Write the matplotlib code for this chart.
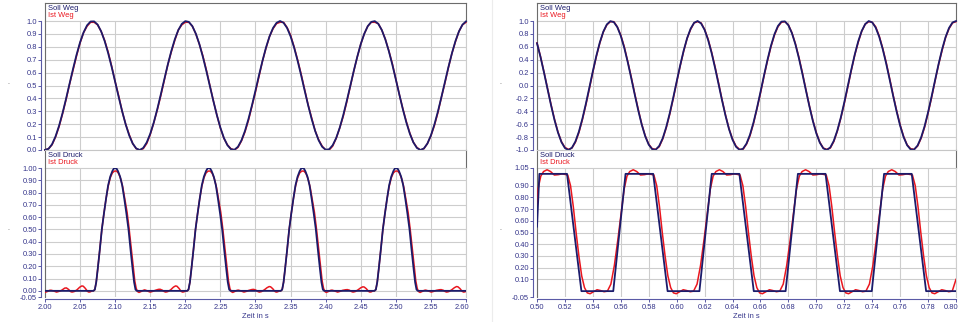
import numpy as np
import matplotlib
matplotlib.use("Agg")
import matplotlib.pyplot as plt
from matplotlib.lines import Line2D
from matplotlib.transforms import ScaledTranslation

plt.rcParams['font.family'] = ['Liberation Sans', 'DejaVu Sans']

# ---------------- left recording: 2.00 ... 2.60 s ----------------
t_weg_l = np.linspace(2.0, 2.6, 121)
soll_weg_l = [
    0.001, 0.009, 0.044, 0.105, 0.187, 0.286, 0.397, 0.514, 0.630, 0.739,
    0.835, 0.912, 0.967, 0.996, 0.997, 0.972, 0.920, 0.845, 0.751, 0.644,
    0.528, 0.411, 0.299, 0.198, 0.113, 0.050, 0.012, 0.000, 0.016, 0.059,
    0.126, 0.213, 0.316, 0.430, 0.547, 0.662, 0.767, 0.858, 0.930, 0.978,
    0.999, 0.993, 0.960, 0.901, 0.821, 0.722, 0.612, 0.495, 0.379, 0.269,
    0.172, 0.093, 0.037, 0.006, 0.002, 0.025, 0.075, 0.148, 0.241, 0.347,
    0.462, 0.580, 0.692, 0.795, 0.881, 0.946, 0.986, 1.000, 0.986, 0.946,
    0.881, 0.795, 0.692, 0.580, 0.462, 0.347, 0.241, 0.148, 0.075, 0.025,
    0.002, 0.006, 0.037, 0.093, 0.172, 0.269, 0.379, 0.495, 0.612, 0.722,
    0.821, 0.901, 0.960, 0.993, 0.999, 0.978, 0.930, 0.858, 0.767, 0.662,
    0.547, 0.430, 0.316, 0.213, 0.126, 0.059, 0.016, 0.000, 0.012, 0.050,
    0.113, 0.198, 0.299, 0.411, 0.528, 0.644, 0.751, 0.845, 0.920, 0.972,
    0.997]
ist_weg_l = [
    0.00, 0.01, 0.04, 0.10, 0.18, 0.28, 0.39, 0.51, 0.62, 0.73,
    0.83, 0.91, 0.96, 0.99, 0.99, 0.97, 0.92, 0.85, 0.76, 0.65,
    0.53, 0.42, 0.30, 0.20, 0.12, 0.05, 0.01, 0.00, 0.01, 0.05,
    0.12, 0.21, 0.31, 0.42, 0.54, 0.66, 0.76, 0.85, 0.93, 0.97,
    0.99, 0.99, 0.96, 0.90, 0.82, 0.73, 0.62, 0.50, 0.38, 0.27,
    0.17, 0.09, 0.04, 0.01, 0.00, 0.02, 0.07, 0.14, 0.23, 0.34,
    0.45, 0.57, 0.69, 0.79, 0.88, 0.94, 0.98, 0.99, 0.99, 0.95,
    0.89, 0.80, 0.70, 0.59, 0.47, 0.35, 0.25, 0.15, 0.08, 0.03,
    0.00, 0.00, 0.03, 0.09, 0.17, 0.26, 0.37, 0.49, 0.61, 0.72,
    0.82, 0.90, 0.96, 0.99, 0.99, 0.98, 0.93, 0.86, 0.77, 0.67,
    0.55, 0.43, 0.32, 0.22, 0.13, 0.06, 0.02, 0.00, 0.01, 0.05,
    0.11, 0.19, 0.29, 0.41, 0.52, 0.64, 0.75, 0.84, 0.92, 0.97,
    0.99]

t_soll_druck_l = [
    2.000,
    2.069, 2.071, 2.073, 2.075, 2.078, 2.081, 2.084, 2.087, 2.090, 2.093, 2.096, 2.098, 2.100,
    2.102, 2.104, 2.107, 2.110, 2.113, 2.116, 2.119, 2.122, 2.125, 2.127, 2.129, 2.131,
    2.2025, 2.2045, 2.2065, 2.2085, 2.2115, 2.2145, 2.2175, 2.2205, 2.2235, 2.2265, 2.2295, 2.2315, 2.2335,
    2.2355, 2.2375, 2.2405, 2.2435, 2.2465, 2.2495, 2.2525, 2.2555, 2.2585, 2.2605, 2.2625, 2.2645,
    2.336, 2.338, 2.340, 2.342, 2.345, 2.348, 2.351, 2.354, 2.357, 2.360, 2.363, 2.365, 2.367,
    2.369, 2.371, 2.374, 2.377, 2.380, 2.383, 2.386, 2.389, 2.392, 2.394, 2.396, 2.398,
    2.4695, 2.4715, 2.4735, 2.4755, 2.4785, 2.4815, 2.4845, 2.4875, 2.4905, 2.4935, 2.4965, 2.4985, 2.5005,
    2.5025, 2.5045, 2.5075, 2.5105, 2.5135, 2.5165, 2.5195, 2.5225, 2.5255, 2.5275, 2.5295, 2.5315,
    2.600]
soll_druck_l = [
    0.0,
    0, 0.01, 0.07, 0.17, 0.33, 0.50, 0.63, 0.75, 0.86, 0.93, 0.975, 0.995, 1.0,
    0.995, 0.975, 0.93, 0.86, 0.75, 0.63, 0.50, 0.33, 0.17, 0.07, 0.01, 0,
    0, 0.01, 0.07, 0.17, 0.33, 0.50, 0.63, 0.75, 0.86, 0.93, 0.975, 0.995, 1.0,
    0.995, 0.975, 0.93, 0.86, 0.75, 0.63, 0.50, 0.33, 0.17, 0.07, 0.01, 0,
    0, 0.01, 0.07, 0.17, 0.33, 0.50, 0.63, 0.75, 0.86, 0.93, 0.975, 0.995, 1.0,
    0.995, 0.975, 0.93, 0.86, 0.75, 0.63, 0.50, 0.33, 0.17, 0.07, 0.01, 0,
    0, 0.01, 0.07, 0.17, 0.33, 0.50, 0.63, 0.75, 0.86, 0.93, 0.975, 0.995, 1.0,
    0.995, 0.975, 0.93, 0.86, 0.75, 0.63, 0.50, 0.33, 0.17, 0.07, 0.01, 0,
    0.0]

t_ist_druck_l = [
    2.000, 2.0035, 2.0065, 2.0085, 2.0115, 2.0145, 2.0165, 2.0195, 2.0235, 2.028, 2.0305, 2.0335,
    2.0365, 2.0385, 2.0415, 2.0455, 2.0495, 2.0525, 2.0545, 2.0575, 2.0605, 2.0625, 2.0645, 2.067,
    2.069, 2.071, 2.073, 2.075, 2.078, 2.081, 2.084, 2.087, 2.090, 2.093, 2.096, 2.099,
    2.102, 2.105, 2.108, 2.111, 2.114, 2.117, 2.120, 2.123, 2.126, 2.128, 2.130, 2.132,
    2.134, 2.137, 2.140, 2.142, 2.145, 2.148, 2.150, 2.153, 2.157, 2.1615, 2.164, 2.167,
    2.170, 2.172, 2.175, 2.179, 2.183, 2.186, 2.188, 2.191, 2.194, 2.196, 2.198, 2.2005,
    2.2025, 2.2045, 2.2065, 2.2085, 2.2115, 2.2145, 2.2175, 2.2205, 2.2235, 2.2265, 2.2295, 2.2325,
    2.2355, 2.2385, 2.2415, 2.2445, 2.2475, 2.2505, 2.2535, 2.2565, 2.2595, 2.2615, 2.2635, 2.2655,
    2.2675, 2.2705, 2.2735, 2.2755, 2.2785, 2.2815, 2.2835, 2.2865, 2.2905, 2.295, 2.2975, 2.3005,
    2.3035, 2.3055, 2.3085, 2.3125, 2.3165, 2.3195, 2.3215, 2.3245, 2.3275, 2.3295, 2.3315, 2.334,
    2.336, 2.338, 2.340, 2.342, 2.345, 2.348, 2.351, 2.354, 2.357, 2.360, 2.363, 2.366,
    2.369, 2.372, 2.375, 2.378, 2.381, 2.384, 2.387, 2.390, 2.393, 2.395, 2.397, 2.399,
    2.401, 2.404, 2.407, 2.409, 2.412, 2.415, 2.417, 2.420, 2.424, 2.4285, 2.431, 2.434,
    2.437, 2.439, 2.442, 2.446, 2.450, 2.453, 2.455, 2.458, 2.461, 2.463, 2.465, 2.4675,
    2.4695, 2.4715, 2.4735, 2.4755, 2.4785, 2.4815, 2.4845, 2.4875, 2.4905, 2.4935, 2.4965, 2.4995,
    2.5025, 2.5055, 2.5085, 2.5115, 2.5145, 2.5175, 2.5205, 2.5235, 2.5265, 2.5285, 2.5305, 2.5325,
    2.5345, 2.5375, 2.5405, 2.5425, 2.5455, 2.5485, 2.5505, 2.5535, 2.5575, 2.562, 2.5645, 2.5675,
    2.5705, 2.5725, 2.5755, 2.5795, 2.5835, 2.5865, 2.5885, 2.5915, 2.5945, 2.5965, 2.5985, 2.600]
ist_druck_l = [
    -0.012, -0.005, 0.004, 0.005, 0.001, -0.006, -0.01, -0.005, 0.004, 0.022, 0.024, 0.012,
    -0.006, -0.01, -0.006, 0.008, 0.03, 0.04, 0.038, 0.02, -0.004, -0.01, -0.008, 0.0,
    0.0, 0.01, 0.07, 0.17, 0.33, 0.50, 0.63, 0.75, 0.85, 0.92, 0.96, 0.975,
    0.975, 0.955, 0.91, 0.84, 0.74, 0.64, 0.50, 0.34, 0.18, 0.08, 0.02, -0.006,
    -0.013, -0.005, 0.004, 0.008, 0.002, -0.006, -0.01, -0.005, 0.004, 0.012, 0.013, 0.006,
    -0.006, -0.01, -0.006, 0.008, 0.03, 0.04, 0.038, 0.02, -0.004, -0.01, -0.008, 0.0,
    0.0, 0.01, 0.07, 0.17, 0.33, 0.50, 0.63, 0.75, 0.85, 0.92, 0.96, 0.975,
    0.975, 0.955, 0.91, 0.84, 0.74, 0.64, 0.50, 0.34, 0.18, 0.08, 0.02, -0.006,
    -0.013, -0.005, 0.004, 0.006, 0.001, -0.006, -0.01, -0.005, 0.004, 0.011, 0.012, 0.006,
    -0.006, -0.01, -0.006, 0.008, 0.026, 0.035, 0.033, 0.018, -0.004, -0.01, -0.008, 0.0,
    0.0, 0.01, 0.07, 0.17, 0.33, 0.50, 0.63, 0.75, 0.85, 0.92, 0.96, 0.975,
    0.975, 0.955, 0.91, 0.84, 0.74, 0.64, 0.50, 0.34, 0.18, 0.08, 0.02, -0.006,
    -0.013, -0.005, 0.004, 0.006, 0.001, -0.006, -0.01, -0.005, 0.004, 0.009, 0.01, 0.005,
    -0.006, -0.01, -0.006, 0.008, 0.025, 0.033, 0.031, 0.017, -0.004, -0.01, -0.008, 0.0,
    0.0, 0.01, 0.07, 0.17, 0.33, 0.50, 0.63, 0.75, 0.85, 0.92, 0.96, 0.975,
    0.975, 0.955, 0.91, 0.84, 0.74, 0.64, 0.50, 0.34, 0.18, 0.08, 0.02, -0.006,
    -0.013, -0.005, 0.004, 0.006, 0.001, -0.006, -0.01, -0.005, 0.004, 0.009, 0.01, 0.005,
    -0.006, -0.01, -0.006, 0.008, 0.026, 0.035, 0.033, 0.018, -0.004, -0.01, -0.008, -0.003]

# ---------------- right recording: 0.50 ... 0.80 s ----------------
t_weg_r = np.linspace(0.5, 0.8, 121)
soll_weg_r = [
    0.655, 0.443, 0.203, -0.051, -0.301, -0.532, -0.728, -0.878, -0.970, -1.000,
    -0.965, -0.868, -0.715, -0.515, -0.282, -0.031, 0.222, 0.461, 0.670, 0.836,
    0.947, 0.997, 0.983, 0.905, 0.769, 0.583, 0.359, 0.112, -0.142, -0.387,
    -0.607, -0.788, -0.918, -0.988, -0.995, -0.937, -0.819, -0.647, -0.434, -0.193,
    0.061, 0.311, 0.540, 0.735, 0.882, 0.973, 1.000, 0.962, 0.863, 0.707,
    0.506, 0.272, 0.021, -0.232, -0.470, -0.678, -0.841, -0.950, -0.998, -0.981,
    -0.901, -0.763, -0.575, -0.350, -0.102, 0.152, 0.396, 0.615, 0.794, 0.922,
    0.990, 0.994, 0.934, 0.813, 0.640, 0.425, 0.183, -0.071, -0.320, -0.549,
    -0.742, -0.887, -0.975, -1.000, -0.960, -0.858, -0.700, -0.498, -0.263, -0.011,
    0.242, 0.479, 0.685, 0.846, 0.953, 0.999, 0.979, 0.897, 0.756, 0.567,
    0.341, 0.092, -0.162, -0.405, -0.623, -0.800, -0.926, -0.991, -0.993, -0.930,
    -0.807, -0.632, -0.416, -0.173, 0.081, 0.330, 0.557, 0.749, 0.892, 0.977,
    0.999]
ist_weg_r = [
    0.66, 0.45, 0.21, -0.04, -0.29, -0.52, -0.72, -0.87, -0.96, -0.99,
    -0.97, -0.88, -0.73, -0.53, -0.30, -0.05, 0.21, 0.45, 0.66, 0.83,
    0.94, 0.99, 0.99, 0.91, 0.78, 0.60, 0.37, 0.13, -0.13, -0.37,
    -0.60, -0.78, -0.91, -0.98, -0.99, -0.95, -0.83, -0.66, -0.45, -0.21,
    0.05, 0.30, 0.53, 0.73, 0.87, 0.97, 0.99, 0.97, 0.87, 0.72,
    0.52, 0.29, 0.04, -0.22, -0.46, -0.67, -0.83, -0.94, -0.99, -0.99,
    -0.91, -0.78, -0.59, -0.36, -0.12, 0.14, 0.38, 0.60, 0.78, 0.91,
    0.98, 0.99, 0.94, 0.82, 0.65, 0.44, 0.20, -0.06, -0.31, -0.54,
    -0.73, -0.88, -0.97, -0.99, -0.97, -0.87, -0.71, -0.51, -0.28, -0.03,
    0.23, 0.47, 0.67, 0.84, 0.95, 0.99, 0.98, 0.91, 0.77, 0.58,
    0.36, 0.11, -0.15, -0.39, -0.61, -0.79, -0.92, -0.98, -0.99, -0.94,
    -0.82, -0.65, -0.43, -0.19, 0.07, 0.32, 0.54, 0.74, 0.88, 0.97,
    0.99]

t_soll_druck_r = [0.500, 0.5017, 0.5215, 0.5318, 0.5546, 0.5634, 0.5832, 0.5935,
                  0.6163, 0.6251, 0.6449, 0.6552, 0.6780, 0.6868, 0.7066, 0.7169,
                  0.7397, 0.7485, 0.7683, 0.7786, 0.800]
soll_druck_r = [0.55, 1.0, 1.0, 0.0, 0.0, 1.0, 1.0, 0.0,
                0.0, 1.0, 1.0, 0.0, 0.0, 1.0, 1.0, 0.0,
                0.0, 1.0, 1.0, 0.0, 0.0]

t_ist_druck_r = [
    0.5000, 0.5007, 0.5027, 0.5047, 0.5072, 0.5097, 0.5124, 0.5152, 0.5179, 0.5202,
    0.5220, 0.5240, 0.5260, 0.5280, 0.5300, 0.5320, 0.5340, 0.5360, 0.5380, 0.5405, 0.5430, 0.5455, 0.5480,
    0.5504, 0.5529, 0.5554, 0.5579, 0.5604, 0.5624, 0.5644, 0.5664, 0.5689, 0.5714, 0.5741, 0.5769, 0.5796, 0.5819,
    0.5837, 0.5857, 0.5877, 0.5897, 0.5917, 0.5937, 0.5957, 0.5977, 0.5997, 0.6022, 0.6047, 0.6072, 0.6097,
    0.6121, 0.6146, 0.6171, 0.6196, 0.6221, 0.6241, 0.6261, 0.6281, 0.6306, 0.6331, 0.6358, 0.6386, 0.6413, 0.6436,
    0.6454, 0.6474, 0.6494, 0.6514, 0.6534, 0.6554, 0.6574, 0.6594, 0.6614, 0.6639, 0.6664, 0.6689, 0.6714,
    0.6738, 0.6763, 0.6788, 0.6813, 0.6838, 0.6858, 0.6878, 0.6898, 0.6923, 0.6948, 0.6975, 0.7003, 0.7030, 0.7053,
    0.7071, 0.7091, 0.7111, 0.7131, 0.7151, 0.7171, 0.7191, 0.7211, 0.7231, 0.7256, 0.7281, 0.7306, 0.7331,
    0.7355, 0.7380, 0.7405, 0.7430, 0.7455, 0.7475, 0.7495, 0.7515, 0.7540, 0.7565, 0.7592, 0.7620, 0.7647, 0.7670,
    0.7688, 0.7708, 0.7728, 0.7748, 0.7768, 0.7788, 0.7808, 0.7828, 0.7848, 0.7873, 0.7898, 0.7923, 0.7948,
    0.7973, 0.8000]
ist_druck_r = [
    0.70, 0.87, 0.98, 1.02, 1.035, 1.02, 0.99, 0.993, 1.0, 0.995,
    0.99, 0.90, 0.72, 0.50, 0.30, 0.13, 0.03, -0.015, -0.022, -0.005, 0.012, 0.005, -0.005,
    0.0, 0.06, 0.22, 0.44, 0.68, 0.87, 0.98, 1.02, 1.035, 1.02, 0.99, 0.993, 1.0, 0.995,
    0.99, 0.90, 0.72, 0.50, 0.30, 0.13, 0.03, -0.015, -0.022, -0.005, 0.012, 0.005, -0.005,
    0.0, 0.06, 0.22, 0.44, 0.68, 0.87, 0.98, 1.02, 1.035, 1.02, 0.99, 0.993, 1.0, 0.995,
    0.99, 0.90, 0.72, 0.50, 0.30, 0.13, 0.03, -0.015, -0.022, -0.005, 0.012, 0.005, -0.005,
    0.0, 0.06, 0.22, 0.44, 0.68, 0.87, 0.98, 1.02, 1.035, 1.02, 0.99, 0.993, 1.0, 0.995,
    0.99, 0.90, 0.72, 0.50, 0.30, 0.13, 0.03, -0.015, -0.022, -0.005, 0.012, 0.005, -0.005,
    0.0, 0.06, 0.22, 0.44, 0.68, 0.87, 0.98, 1.02, 1.035, 1.02, 0.99, 0.993, 1.0, 0.995,
    0.99, 0.90, 0.72, 0.50, 0.30, 0.13, 0.03, -0.015, -0.022, -0.005, 0.012, 0.005, -0.005,
    0.0, 0.10]

# tick sets
xticks_l = [2.00, 2.05, 2.10, 2.15, 2.20, 2.25, 2.30, 2.35, 2.40, 2.45, 2.50, 2.55, 2.60]
xticks_r = [0.50, 0.52, 0.54, 0.56, 0.58, 0.60, 0.62, 0.64, 0.66, 0.68, 0.70, 0.72, 0.74, 0.76, 0.78, 0.80]
yticks_weg_l = [0.0, 0.1, 0.2, 0.3, 0.4, 0.5, 0.6, 0.7, 0.8, 0.9, 1.0]
yticks_druck_l = [-0.05, 0.0, 0.1, 0.2, 0.3, 0.4, 0.5, 0.6, 0.7, 0.8, 0.9, 1.0]
yticks_weg_r = [-1.0, -0.8, -0.6, -0.4, -0.2, 0.0, 0.2, 0.4, 0.6, 0.8, 1.0]
yticks_druck_r = [-0.05, 0.1, 0.2, 0.3, 0.4, 0.5, 0.6, 0.7, 0.8, 0.9, 1.05]

# ---------------- styling ----------------
NAVY = '#1b1b6b'
RED = '#ea161e'
TXT = '#34348a'
AXC = '#5a5aa6'
GRID = '#cdcdcd'
FRAME = '#6c6c6c'
FS = 5.4
W, H = 960, 322

fig = plt.figure(figsize=(9.6, 3.22), dpi=100)


def rect(x0, x1, y0, y1):
    return [x0 / W, 1 - y1 / H, (x1 - x0) / W, (y1 - y0) / H]


def header(x0, x1, y0, y1, names, top_dark):
    hx = fig.add_axes(rect(x0, x1, y0, y1))
    hx.set_xticks([])
    hx.set_yticks([])
    for side in hx.spines:
        hx.spines[side].set_linewidth(0.8)
        hx.spines[side].set_color('#c6c6c6')
    hx.spines['left'].set_color(FRAME)
    hx.spines['right'].set_color(FRAME)
    if top_dark:
        hx.spines['top'].set_color(FRAME)
    hx.text(0.006, 0.72, names[0], color=NAVY, fontsize=FS, va='center', transform=hx.transAxes)
    hx.text(0.006, 0.28, names[1], color=RED, fontsize=FS, va='center', transform=hx.transAxes)


def panel(x0, x1, y0, y1, xlim, xticks, xfmt, ylim, yticks, yfmt, bottom):
    ax = fig.add_axes(rect(x0, x1, y0, y1))
    ax.set_xlim(*xlim)
    ax.set_ylim(*ylim)
    ax.set_xticks(xticks)
    ax.set_yticks(yticks)
    ax.set_yticklabels([yfmt.format(v) for v in yticks])
    ax.grid(True, color=GRID, lw=0.8)
    ax.set_axisbelow(True)
    ax.spines['top'].set_visible(False)
    ax.spines['right'].set_color(GRID)
    ax.spines['left'].set_position(('outward', 2.6))
    ax.spines['left'].set_color(AXC)
    ax.plot([0, 0], [0, 1], transform=ax.transAxes, color=FRAME, lw=0.8, clip_on=False)
    ax.tick_params(axis='y', colors=AXC, labelcolor=TXT, labelsize=FS, length=2.2, width=0.7, pad=1)
    if bottom:
        ax.spines['bottom'].set_position(('outward', 1.2))
        ax.spines['bottom'].set_color(AXC)
        ax.set_xticklabels([xfmt.format(v) for v in xticks])
        ax.tick_params(axis='x', colors=AXC, labelcolor=TXT, labelsize=FS, length=2.2, width=0.7, pad=1.5)
        # keep the last label inside the picture, as the screenshot does
        last = ax.get_xticklabels()[-1]
        last.set_transform(last.get_transform() + ScaledTranslation(-0.045, 0, fig.dpi_scale_trans))
    else:
        ax.spines['bottom'].set_visible(False)
        ax.tick_params(axis='x', length=0, labelbottom=False)
    return ax


for (x0, x1, xlim, xticks, tw, sw, iw, tsd, sd, tid, idr, ytw, yfw, ylw, ytd, yld) in [
    (45, 466, (2.0, 2.6), xticks_l, t_weg_l, soll_weg_l, ist_weg_l,
     t_soll_druck_l, soll_druck_l, t_ist_druck_l, ist_druck_l,
     yticks_weg_l, '{:.1f}', (0.0, 1.0), yticks_druck_l, (-0.05, 1.0)),
    (537, 956, (0.5, 0.8), xticks_r, t_weg_r, soll_weg_r, ist_weg_r,
     t_soll_druck_r, soll_druck_r, t_ist_druck_r, ist_druck_r,
     yticks_weg_r, '{:.1f}', (-1.0, 1.0), yticks_druck_r, (-0.05, 1.05)),
]:
    header(x0, x1, 3, 21, ['Soll Weg', 'Ist Weg'], True)
    ax1 = panel(x0, x1, 21, 150, xlim, xticks, '{:.2f}', ylw, ytw, yfw, False)
    ax1.plot(tw, iw, color=RED, lw=1.1, zorder=3, clip_on=False)
    ax1.plot(tw, sw, color=NAVY, lw=1.3, zorder=4, clip_on=False)

    header(x0, x1, 150, 168, ['Soll Druck', 'Ist Druck'], False)
    ax2 = panel(x0, x1, 168, 297, xlim, xticks, '{:.2f}', yld, ytd, '{:.2f}', True)
    ax2.plot(tid, idr, color=RED, lw=1.1, zorder=3)
    ax2.plot(tsd, sd, color=NAVY, lw=1.3, zorder=4)

    fig.text((x0 + x1) / 2 / W, 1 - 316 / H, 'Zeit in s', ha='center', va='center',
             fontsize=FS, color=TXT)
    for yy in (86, 232):
        fig.text((x0 - 37) / W, 1 - yy / H, '.', ha='center', va='bottom', fontsize=5, color='#555555')

# faint border of the second screenshot
fig.add_artist(Line2D([492 / W, 492 / W], [0, 1], color='#ececec', lw=0.8))

fig.savefig('out.png', dpi=100)
